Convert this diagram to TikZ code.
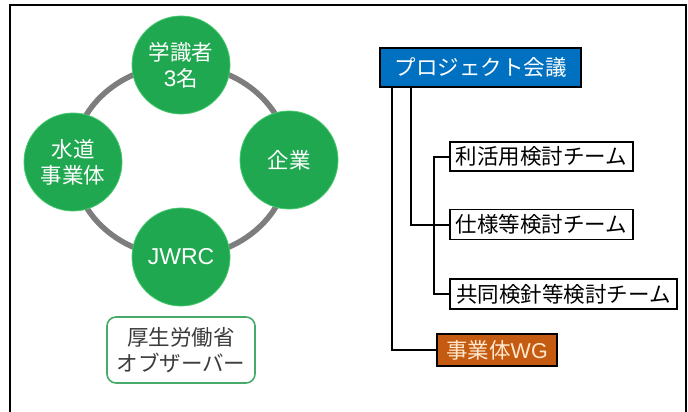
\documentclass[tikz,border=0pt]{standalone}
\usepackage{fontspec}
\setmainfont{Noto Sans CJK JP}
\newfontfamily\lat{Liberation Sans}
\newcommand\myfs{\fontsize{21.5}{26}\selectfont}
\definecolor{cgreen}{RGB}{32,168,80}
\definecolor{cgreenrim}{RGB}{70,200,110}
\definecolor{ringgray}{RGB}{125,125,125}
\definecolor{obsgreen}{RGB}{70,170,105}
\definecolor{obstext}{RGB}{60,60,60}
\definecolor{pblue}{RGB}{0,112,192}
\definecolor{worange}{RGB}{197,90,17}
\definecolor{wtext}{RGB}{255,232,205}
\begin{document}
\begin{tikzpicture}[x=1pt,y=-1pt,
  circ/.style={circle, fill=cgreen, draw=cgreenrim, line width=0.8pt, minimum size=98pt, inner sep=0pt, text=white, align=center, font=\myfs},
  ringline/.style={draw=ringgray, line width=5.5pt},
  obsbox/.style={rectangle, rounded corners=9pt, draw=obsgreen, line width=1.6pt, fill=white, text=obstext, align=center, font=\myfs, inner sep=0pt, minimum width=148pt, minimum height=66pt},
  orgbox/.style={rectangle, draw=black, line width=1.6pt, inner sep=0pt, font=\myfs, minimum height=30pt},
  conn/.style={draw=black, line width=2pt}]
\useasboundingbox (0,0) rectangle (688,412);
\begin{scope}
\clip (0,0) rectangle (688,412);
\draw[line width=2.6pt] (10,5) rectangle (686,440);
\end{scope}
% ring
\coordinate (ringc) at (181,161);
\draw[ringline] (ringc) ellipse [x radius=108pt, y radius=96pt];
% circles
\node[circ] (gak) at (181,65) {学識者\\{\lat\fontsize{22.5}{26}\selectfont 3}名};
\node[circ] (sui) at (73,162) {水道\\事業体};
\node[circ] (kig) at (289,160) {企業};
\node[circ, font=\lat\fontsize{23}{26}\selectfont] (jw) at (181,257) {JWRC};
\node[obsbox] (obs) at (181,350) {厚生労働省\\オブザーバー};
% organisation
\node[orgbox, fill=pblue, text=white, minimum width=201pt, minimum height=39pt] (proj) at (480.5,67.5) {プロジェクト会議};
\node[orgbox, fill=white, minimum width=183pt, minimum height=29pt] (t1) at (541.5,156.5) {利活用検討チーム};
\node[orgbox, fill=white, minimum width=183pt] (t2) at (541.5,224.5) {仕様等検討チーム};
\node[orgbox, fill=white, minimum width=227pt] (t3) at (563.5,294) {共同検針等検討チーム};
\node[orgbox, fill=worange, text=wtext, minimum width=120pt, minimum height=32pt] (wg) at (497,350) {事業体{\lat WG}};
% connectors
\draw[conn] ([xshift=13pt]proj.south west) |- (wg.west);
\draw[conn] ([xshift=32pt]proj.south west) |- (t2.west);
\draw[conn] (t1.west) -- ++(-15,0) |- (t3.west);
\end{tikzpicture}
\end{document}
